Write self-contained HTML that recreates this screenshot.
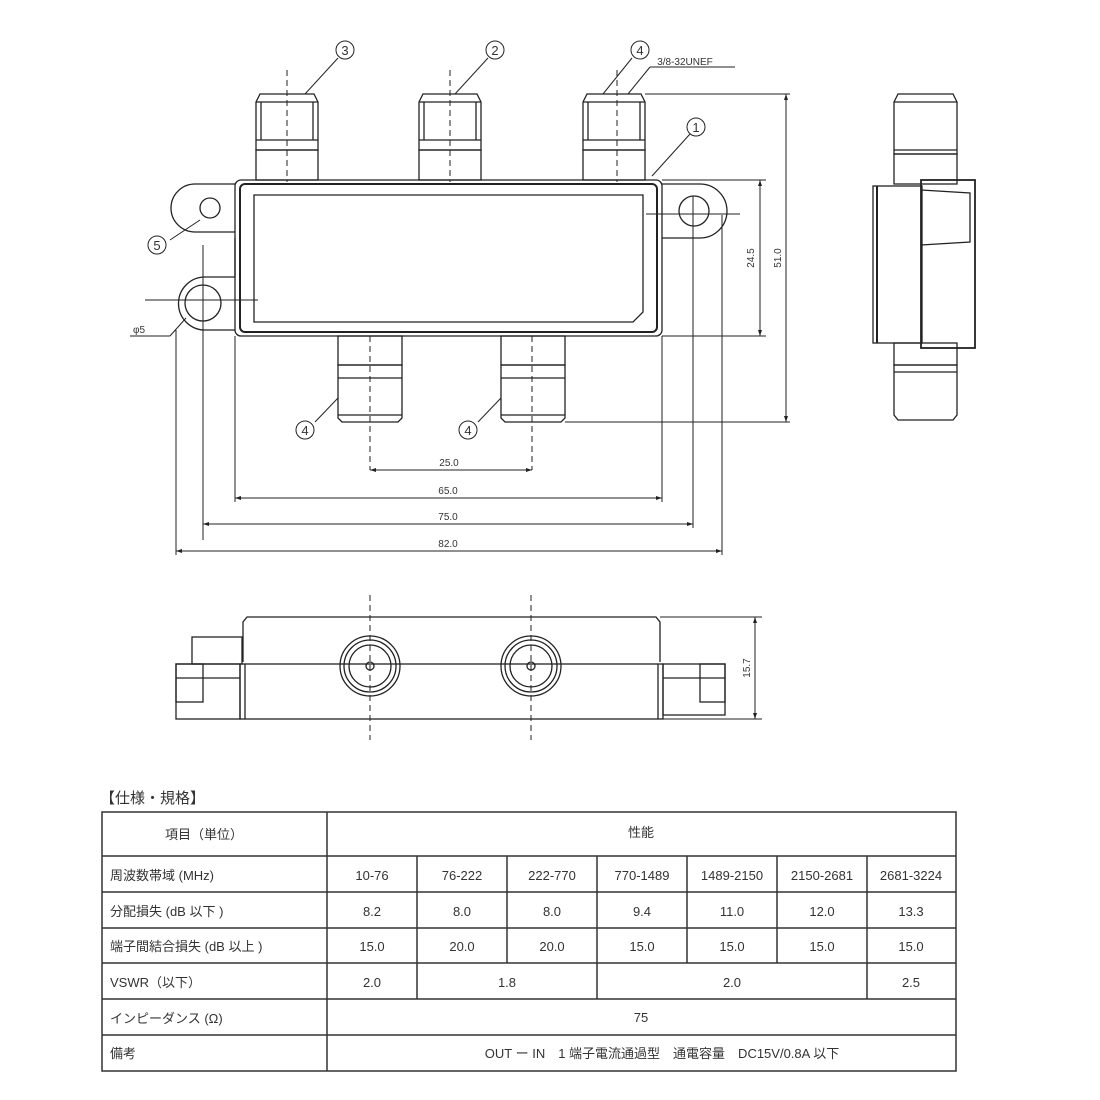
<!DOCTYPE html>
<html><head><meta charset="utf-8"><style>
html,body{margin:0;padding:0;background:#fff;}
svg{display:block;}
text{font-family:"Liberation Sans","Noto Sans CJK JP",sans-serif;fill:#333;}
</style></head><body>
<svg width="1100" height="1100" viewBox="0 0 1100 1100" xmlns="http://www.w3.org/2000/svg">
<g fill="none" stroke="#222" stroke-width="1.3">
<!-- top connectors -->
<g id="c1">
<rect x="256" y="150" width="62" height="30"/>
<path d="M256 102 L260 94 L314 94 L318 102 L318 150 L256 150 Z"/>
<line x1="256" y1="102" x2="318" y2="102"/><line x1="256" y1="140" x2="318" y2="140"/>
<line x1="261" y1="102" x2="261" y2="140"/><line x1="313" y1="102" x2="313" y2="140"/>
</g>
<use href="#c1" x="163"/>
<use href="#c1" x="327"/>
<!-- body -->
<rect x="235" y="180" width="427" height="156" rx="6"/>
<rect x="240" y="184" width="417" height="148" rx="5" stroke-width="2"/>
<path d="M254 195 L643 195 L643 312 L633 322 L254 322 Z"/>
<!-- lugs -->
<path d="M235 232 L195 232 A24 24 0 0 1 195 184 L235 184"/>
<circle cx="210" cy="208" r="10"/>
<path d="M235 277 L205 277 A26 26 0 0 0 205 330 L235 330"/>
<circle cx="203" cy="303" r="18"/>
<path d="M662 184 L700 184 A27 27 0 0 1 700 238 L662 238"/>
<circle cx="694" cy="211" r="15"/>
<line x1="235" y1="238" x2="235" y2="277"/>
<!-- bottom connectors -->
<g id="c2">
<rect x="338" y="336" width="64" height="29"/>
<path d="M338 365 L402 365 L402 418 L398 422 L342 422 L338 418 Z"/>
<line x1="338" y1="378" x2="402" y2="378"/><line x1="338" y1="415" x2="402" y2="415"/>
</g>
<use href="#c2" x="163"/>
<!-- side view -->
<path d="M894 102 L898 94 L953 94 L957 102 L957 154 L894 154 Z"/>
<line x1="894" y1="102" x2="957" y2="102"/><line x1="894" y1="150" x2="957" y2="150"/>
<rect x="894" y="154" width="63" height="30"/>
<rect x="873" y="186" width="49" height="157"/>
<line x1="877" y1="186" x2="877" y2="343" stroke-width="2"/>
<rect x="921" y="180" width="54" height="168" stroke-width="1.8"/>
<path d="M921 190 L970 193 L970 242 L921 245"/>
<rect x="894" y="343" width="63" height="22"/>
<path d="M894 365 L957 365 L957 415 L953 420 L898 420 L894 415 Z"/>
<line x1="894" y1="372" x2="957" y2="372"/>
<!-- bottom view -->
<path d="M243 662 L243 622 L247 617 L656 617 L660 622 L660 662"/>
<rect x="240" y="664" width="423" height="55"/>
<line x1="245" y1="664" x2="245" y2="719"/><line x1="658" y1="664" x2="658" y2="719"/>
<rect x="192" y="637" width="50" height="27"/>
<rect x="176" y="664" width="64" height="55"/>
<rect x="176" y="664" width="27" height="38"/>
<line x1="176" y1="678" x2="240" y2="678"/>
<rect x="663" y="664" width="62" height="51"/>
<rect x="700" y="664" width="25" height="38"/>
<line x1="663" y1="678" x2="725" y2="678"/>
<g id="cc"><circle cx="370" cy="666" r="30"/><circle cx="370" cy="666" r="26"/><circle cx="370" cy="666" r="21"/><circle cx="370" cy="666" r="4"/></g>
<use href="#cc" x="161"/>
</g>
<!-- dashed center lines -->
<g stroke="#222" stroke-width="1" stroke-dasharray="6,4" fill="none">
<line x1="287" y1="70" x2="287" y2="182"/>
<line x1="450" y1="70" x2="450" y2="182"/>
<line x1="617" y1="70" x2="617" y2="182"/>
<line x1="370" y1="336" x2="370" y2="470"/>
<line x1="532" y1="336" x2="532" y2="470"/>
<line x1="370" y1="595" x2="370" y2="740"/>
<line x1="531" y1="595" x2="531" y2="740"/>
</g>
<!-- dimension lines -->
<g stroke="#222" stroke-width="1" fill="none">
<line x1="145" y1="300" x2="258" y2="300"/>
<line x1="646" y1="214" x2="740" y2="214"/>
<line x1="203" y1="245" x2="203" y2="540"/>
<line x1="235" y1="336" x2="235" y2="502"/>
<line x1="662" y1="336" x2="662" y2="502"/>
<line x1="693" y1="196" x2="693" y2="528"/>
<line x1="722" y1="215" x2="722" y2="555"/>
<line x1="176" y1="330" x2="176" y2="555"/>
<line x1="370" y1="470" x2="532" y2="470"/>
<line x1="235" y1="498" x2="662" y2="498"/>
<line x1="203" y1="524" x2="693" y2="524"/>
<line x1="176" y1="551" x2="722" y2="551"/>
<line x1="662" y1="180" x2="766" y2="180"/>
<line x1="662" y1="336" x2="766" y2="336"/>
<line x1="760" y1="180" x2="760" y2="336"/>
<line x1="645" y1="94" x2="790" y2="94"/>
<line x1="565" y1="422" x2="790" y2="422"/>
<line x1="786" y1="94" x2="786" y2="422"/>
<line x1="660" y1="617" x2="762" y2="617"/>
<line x1="658" y1="719" x2="762" y2="719"/>
<line x1="755" y1="617" x2="755" y2="719"/>
<!-- leaders -->
<line x1="305" y1="94" x2="338" y2="58"/>
<line x1="455" y1="94" x2="488" y2="58"/>
<line x1="603" y1="94" x2="632" y2="58"/>
<line x1="628" y1="94" x2="650" y2="67"/><line x1="650" y1="67" x2="735" y2="67"/>
<line x1="652" y1="176" x2="690" y2="134"/>
<line x1="200" y1="220" x2="170" y2="240"/>
<line x1="186" y1="318" x2="170" y2="336"/><line x1="170" y1="336" x2="130" y2="336"/>
<line x1="338" y1="398" x2="315" y2="422"/>
<line x1="501" y1="398" x2="478" y2="422"/>
<circle cx="345" cy="50" r="9"/><circle cx="495" cy="50" r="9"/><circle cx="640" cy="50" r="9"/>
<circle cx="696" cy="127" r="9"/><circle cx="157" cy="245" r="9"/>
<circle cx="305" cy="430" r="9"/><circle cx="468" cy="430" r="9"/>
</g>
<g fill="#222">
<path d="M370 470 l6 -2 v4z M532 470 l-6 -2 v4z M235 498 l6 -2 v4z M662 498 l-6 -2 v4z M203 524 l6 -2 v4z M693 524 l-6 -2 v4z M176 551 l6 -2 v4z M722 551 l-6 -2 v4z"/>
<path d="M760 180 l-2 6 h4z M760 336 l-2 -6 h4z M786 94 l-2 6 h4z M786 422 l-2 -6 h4z M755 617 l-2 6 h4z M755 719 l-2 -6 h4z"/>
</g>
<g font-size="13" text-anchor="middle">
<text x="345" y="55">3</text><text x="495" y="55">2</text><text x="640" y="55">4</text>
<text x="696" y="132">1</text><text x="157" y="250">5</text>
<text x="305" y="435">4</text><text x="468" y="435">4</text>
</g>
<g font-size="10" fill="#444" text-anchor="middle">
<text x="685" y="65">3/8-32UNEF</text>
<text x="139" y="333">φ5</text>
<text x="449" y="466">25.0</text>
<text x="448" y="494">65.0</text>
<text x="448" y="520">75.0</text>
<text x="448" y="547">82.0</text>
<text transform="translate(754,258) rotate(-90)">24.5</text>
<text transform="translate(781,258) rotate(-90)">51.0</text>
<text transform="translate(750,668) rotate(-90)">15.7</text>
</g>
<!-- table -->
<text x="100" y="803" font-size="15" fill="#222">【仕様・規格】</text>
<g stroke="#333" stroke-width="1.5" fill="none">
<rect x="102" y="812" width="854" height="259"/>
<line x1="327" y1="812" x2="327" y2="1071"/>
<line x1="102" y1="856" x2="956" y2="856"/>
<line x1="102" y1="892" x2="956" y2="892"/>
<line x1="102" y1="928" x2="956" y2="928"/>
<line x1="102" y1="963" x2="956" y2="963"/>
<line x1="102" y1="999" x2="956" y2="999"/>
<line x1="102" y1="1035" x2="956" y2="1035"/>
<line x1="417" y1="856" x2="417" y2="999"/>
<line x1="507" y1="856" x2="507" y2="963"/>
<line x1="597" y1="856" x2="597" y2="999"/>
<line x1="687" y1="856" x2="687" y2="963"/>
<line x1="777" y1="856" x2="777" y2="963"/>
<line x1="867" y1="856" x2="867" y2="999"/>
</g>
<g font-size="13" fill="#444">
<text x="165" y="839">項目（単位）</text>
<text x="110" y="880">周波数帯域 (MHz)</text>
<text x="110" y="916">分配損失 (dB 以下 )</text>
<text x="110" y="951">端子間結合損失 (dB 以上 )</text>
<text x="110" y="987">VSWR（以下）</text>
<text x="110" y="1023">インピーダンス (Ω)</text>
<text x="110" y="1058">備考</text>
</g>
<g font-size="13" fill="#444" text-anchor="middle">
<text x="641" y="837">性能</text>
<text x="372" y="880">10-76</text><text x="462" y="880">76-222</text><text x="552" y="880">222-770</text><text x="642" y="880">770-1489</text><text x="732" y="880">1489-2150</text><text x="822" y="880">2150-2681</text><text x="911" y="880">2681-3224</text>
<text x="372" y="916">8.2</text><text x="462" y="916">8.0</text><text x="552" y="916">8.0</text><text x="642" y="916">9.4</text><text x="732" y="916">11.0</text><text x="822" y="916">12.0</text><text x="911" y="916">13.3</text>
<text x="372" y="951">15.0</text><text x="462" y="951">20.0</text><text x="552" y="951">20.0</text><text x="642" y="951">15.0</text><text x="732" y="951">15.0</text><text x="822" y="951">15.0</text><text x="911" y="951">15.0</text>
<text x="372" y="987">2.0</text><text x="507" y="987">1.8</text><text x="732" y="987">2.0</text><text x="911" y="987">2.5</text>
<text x="641" y="1022">75</text>
<text x="662" y="1058">OUT ー IN　1 端子電流通過型　通電容量　DC15V/0.8A 以下</text>
</g>
</svg>
</body></html>
